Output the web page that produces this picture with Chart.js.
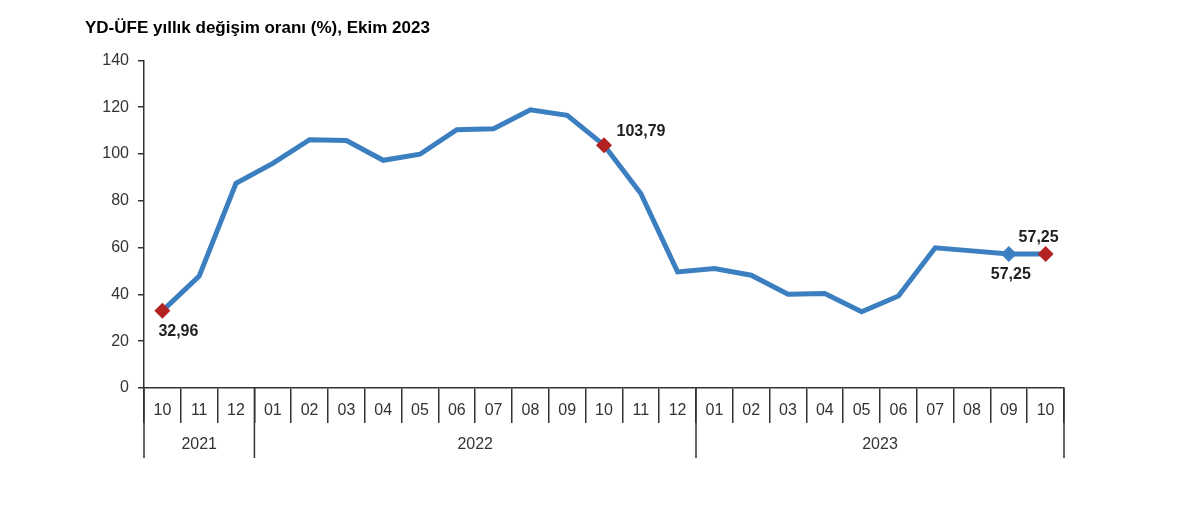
<!DOCTYPE html>
<html>
<head>
  <title>YD-ÜFE yıllık değişim oranı</title>
  <script src="https://cdn.jsdelivr.net/npm/chart.js"></script>
  <style>
    html, body { margin: 0; padding: 0; background: #fff; }
    #wrap { width: 1200px; height: 505px; }
  </style>
</head>
<body>
  <div id="wrap"><canvas id="ufeChart"></canvas></div>

  <script>
    const months = ["10", "11", "12", "01", "02", "03", "04", "05", "06", "07", "08", "09",
                    "10", "11", "12", "01", "02", "03", "04", "05", "06", "07", "08", "09", "10"];
    const years = ["2021", "2022", "2023"];
    const yearLengths = [3, 12, 10];
    const values = [32.96, 47.8, 87.5, 96.0, 106.1, 105.8, 97.3, 99.9, 110.4, 110.8, 118.9, 116.5,
                    103.79, 83.1, 49.6, 51.1, 48.2, 40.1, 40.4, 32.6, 39.3, 59.9, 58.6, 57.25, 57.25];
    const yTicks = [0, 20, 40, 60, 80, 100, 120, 140];

    // işaretli noktalar: indeks, renk, etiket konumu
    const marked = [
      { i: 0, color: "#b22222", dx: 16, dy: 21 },
      { i: 12, color: "#b22222", dx: 37, dy: -14 },
      { i: 23, color: "#3b7fc0", dx: 2, dy: 21 },
      { i: 24, color: "#b22222", dx: -7, dy: -16 }
    ];

    const fmt = v => v.toFixed(2).replace(".", ",");
    const ink = "#333";

    const yearRow = {
      id: "yearRow",
      afterDraw(chart) {
        const x = chart.scales.x;
        const c = chart.ctx;
        const step = x.getPixelForValue(1) - x.getPixelForValue(0);
        c.save();
        c.strokeStyle = ink;
        c.lineWidth = 1.5;
        c.fillStyle = ink;
        c.font = "16px 'Liberation Sans', Arial, sans-serif";
        c.textAlign = "center";
        c.textBaseline = "middle";
        let start = 0;
        const edges = [];
        yearLengths.forEach((n, k) => {
          const left = x.getPixelForValue(start) - step / 2;
          const right = x.getPixelForValue(start + n - 1) + step / 2;
          edges.push(left);
          if (k === yearLengths.length - 1) edges.push(right);
          c.fillText(years[k], (left + right) / 2, x.top + 57);
          start += n;
        });
        edges.forEach(e => {
          c.beginPath();
          c.moveTo(e, x.top);
          c.lineTo(e, x.top + 70);
          c.stroke();
        });
        c.restore();
      }
    };

    const valueLabels = {
      id: "valueLabels",
      afterDatasetsDraw(chart) {
        const meta = chart.getDatasetMeta(0);
        const c = chart.ctx;
        c.save();
        c.fillStyle = "#222";
        c.font = "bold 16px 'Liberation Sans', Arial, sans-serif";
        c.textAlign = "center";
        c.textBaseline = "middle";
        marked.forEach(m => {
          const p = meta.data[m.i];
          c.fillText(fmt(values[m.i]), p.x + m.dx, p.y + m.dy);
        });
        c.restore();
      }
    };

    const markColor = ctx => {
      const m = marked.find(k => k.i === ctx.dataIndex);
      return m ? m.color : "#3b7fc0";
    };

    new Chart(document.getElementById("ufeChart"), {
      type: "line",
      data: {
        labels: months,
        datasets: [{
          data: values,
          borderColor: "#3b7fc0",
          borderWidth: 5,
          tension: 0,
          pointStyle: "rectRot",
          pointRadius: ctx => marked.some(k => k.i === ctx.dataIndex) ? 8 : 0,
          pointBackgroundColor: markColor,
          pointBorderColor: markColor,
          pointBorderWidth: 0
        }]
      },
      options: {
        responsive: true,
        maintainAspectRatio: false,
        animation: false,
        layout: { padding: { left: 85, right: 136, top: 18, bottom: 47 } },
        plugins: {
          legend: { display: false },
          tooltip: { enabled: false },
          title: {
            display: true,
            text: "YD-ÜFE yıllık değişim oranı (%), Ekim 2023",
            align: "start",
            color: "#000",
            font: { family: "'Liberation Sans', Arial, sans-serif", size: 17, weight: "bold" },
            padding: { top: 0, bottom: 22 }
          }
        },
        scales: {
          x: {
            offset: true,
            afterFit: s => { s.height = 70; },
            border: { color: ink, width: 1.5 },
            grid: { offset: true, drawOnChartArea: false, tickLength: 35, color: ink, lineWidth: 1.5 },
            ticks: {
              color: ink,
              padding: -22,
              maxRotation: 0,
              autoSkip: false,
              font: { family: "'Liberation Sans', Arial, sans-serif", size: 16 }
            }
          },
          y: {
            min: 0,
            max: 140,
            afterFit: s => { s.width = 59; },
            afterBuildTicks: s => { s.ticks = yTicks.map(v => ({ value: v })); },
            border: { color: ink, width: 1.5 },
            grid: { drawOnChartArea: false, tickLength: 6, color: ink, lineWidth: 1.5 },
            ticks: {
              color: ink,
              padding: 9,
              font: { family: "'Liberation Sans', Arial, sans-serif", size: 16 }
            }
          }
        }
      },
      plugins: [yearRow, valueLabels]
    });
  </script>
</body>
</html>
